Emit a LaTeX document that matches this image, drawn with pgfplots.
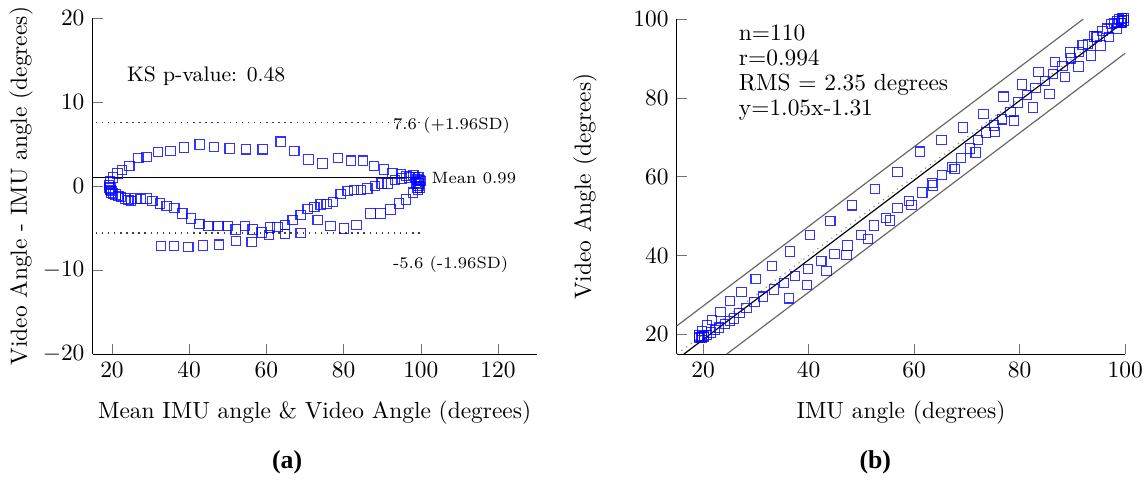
\documentclass[border=0pt]{standalone}
\usepackage{fontspec}
\newfontfamily\capfont{Liberation Serif}
\usepackage{pgfplots}
\usepackage{pgfplotstable}
\pgfplotsset{compat=1.18}
\pgfplotstableread{
m d
19.22 0.12
19.48 0.52
20.34 1.03
21.47 1.51
22.67 1.90
24.49 2.42
26.82 3.37
28.98 3.49
31.99 4.08
35.20 4.20
38.73 4.60
42.72 4.96
46.42 4.64
50.49 4.48
54.71 4.37
59.04 4.37
63.70 5.28
67.24 4.17
70.87 3.17
74.50 2.70
78.60 3.37
81.90 3.02
85.10 3.02
87.90 2.38
90.50 1.98
92.70 1.51
94.80 1.43
96.30 1.19
98.06 1.31
99.35 1.03
99.80 0.71
19.22 -0.16
19.48 -0.48
19.74 -0.79
20.34 -0.87
20.95 -0.99
21.64 -1.15
22.33 -1.27
23.37 -1.47
24.23 -1.67
24.92 -1.79
26.13 -1.47
27.43 -1.55
28.98 -1.47
30.45 -1.79
32.44 -2.06
34.17 -2.38
36.15 -2.58
38.22 -3.25
40.47 -3.85
42.63 -4.52
44.96 -4.76
47.55 -4.72
49.98 -4.72
52.05 -5.16
54.46 -4.76
56.45 -5.16
58.78 -5.52
60.93 -4.92
62.84 -4.84
64.82 -4.64
66.81 -4.05
68.88 -3.45
70.70 -2.74
72.41 -2.46
74.06 -2.18
75.62 -2.14
77.33 -1.87
79.25 -0.95
81.06 -0.56
82.77 -0.48
84.51 -0.48
86.14 -0.28
88.13 0.00
89.87 0.32
91.42 0.32
93.32 0.71
95.05 0.91
97.02 1.03
98.94 0.79
99.97 0.60
32.70 -7.11
36.06 -7.14
39.77 -7.26
43.65 -7.06
47.72 -6.98
52.12 -6.55
56.19 -6.63
60.67 -5.83
64.82 -5.71
68.88 -5.56
73.29 -4.05
76.58 -4.76
80.03 -5.04
83.32 -4.64
86.94 -3.25
89.53 -3.25
92.12 -2.78
94.28 -2.06
96.19 -1.59
98.00 -0.79
99.20 -0.48
99.72 -0.16
99.50 0.30
99.10 -0.20
98.80 0.40
99.40 0.00
19.60 -0.30
19.90 -0.60
98.50 1.10
}\batable
\pgfplotstableread{
imu vid
19.16 19.28
19.22 19.74
19.83 20.86
20.72 22.23
21.72 23.62
23.28 25.70
25.14 28.51
27.24 30.73
29.95 34.03
33.10 37.30
36.43 41.03
40.24 45.20
44.10 48.74
48.25 52.73
52.53 56.90
56.86 61.23
61.06 66.34
65.16 69.33
69.29 72.46
73.15 75.85
76.92 80.29
80.39 83.41
83.59 86.61
86.71 89.09
89.51 91.49
91.95 93.46
94.09 95.52
95.71 96.90
97.41 98.72
98.84 99.87
99.45 100.16
19.30 19.14
19.72 19.24
20.14 19.35
20.78 19.91
21.45 20.46
22.22 21.07
22.97 21.70
24.11 22.64
25.07 23.40
25.82 24.03
26.87 25.40
28.21 26.66
29.72 28.25
31.35 29.56
33.47 31.41
35.36 32.98
37.44 34.86
39.85 36.60
42.40 38.55
44.89 40.37
47.34 42.58
49.91 45.19
52.34 47.62
54.63 49.47
56.84 52.08
59.03 53.87
61.54 56.02
63.39 58.47
65.26 60.42
67.14 62.50
68.84 64.79
70.61 67.16
72.07 69.33
73.64 71.18
75.15 72.97
76.69 74.55
78.27 76.40
79.73 78.78
81.34 80.78
83.01 82.53
84.75 84.27
86.28 86.00
88.13 88.13
89.71 90.03
91.26 91.58
92.97 93.68
94.60 95.51
96.51 97.54
98.55 99.34
99.67 100.27
36.26 29.15
39.63 32.49
43.40 36.14
47.18 40.12
51.21 44.23
55.40 48.85
59.51 52.88
63.59 57.76
67.68 61.97
71.66 66.10
75.32 71.27
78.96 74.20
82.55 77.51
85.64 81.00
88.57 85.32
91.16 87.91
93.51 90.73
95.31 93.25
96.99 95.40
98.40 97.61
99.44 98.96
99.80 99.64
99.35 99.65
99.20 99.00
98.60 99.00
99.40 99.40
19.75 19.45
20.20 19.60
97.95 99.05
}\sctable
\pgfplotsset{
  myax/.style={
    scale only axis, anchor=south west,
    axis x line=bottom, axis y line=left, axis line style={-},
    tick align=inside, tick style={black!55},
    clip=false,
  },
  mymarks/.style={only marks, mark=square, mark size=2pt, mark options={draw=blue, draw opacity=0.8, line width=0.45pt}},
}
\begin{document}
\begin{tikzpicture}
\useasboundingbox (0,0) rectangle (489.7pt,204.7pt);
\begin{axis}[myax,
  at={(39.6pt,53.4pt)}, width=189.7pt, height=143.6pt,
  xmin=15, xmax=130, ymin=-20, ymax=20,
  xtick={20,40,...,120}, ytick={-20,-10,...,20},
  xlabel={Mean IMU angle \& Video Angle (degrees)},
  ylabel={Video Angle - IMU angle (degrees)},
  xlabel style={at={(axis description cs:0.5,-0.1755)}, anchor=center},
  ylabel style={at={(axis description cs:-0.1613,0.5)}, anchor=center},
]
\addplot[black, line width=0.5pt] coordinates {(15,0.99) (100,0.99)};
\addplot[black!75, dotted, line width=0.6pt] coordinates {(15.8,7.6) (100,7.6)};
\addplot[black!75, dotted, line width=0.6pt] coordinates {(15.8,-5.6) (100,-5.6)};
\addplot[mymarks] table[x=m, y=d] {\batable};
\node[anchor=base west, inner sep=0pt, font=\small] at (axis cs:23.8,12.42) {KS p-value: 0.48};
\node[anchor=base west, inner sep=0pt, font=\scriptsize] at (axis cs:92.7,6.79) {7.6 (+1.96SD)};
\node[anchor=base west, inner sep=0pt, font=\scriptsize] at (axis cs:102.7,0.32) {Mean 0.99};
\node[anchor=base west, inner sep=0pt, font=\scriptsize] at (axis cs:92.7,-9.8) {-5.6 (-1.96SD)};
\end{axis}
\begin{axis}[myax,
  at={(289.2pt,53.4pt)}, width=191.6pt, height=143.2pt,
  xmin=15, xmax=100, ymin=15, ymax=100,
  xtick={20,40,...,100}, ytick={20,40,...,100},
  xlabel={IMU angle (degrees)},
  ylabel={Video Angle (degrees)},
  xlabel style={at={(axis description cs:0.5,-0.176)}, anchor=center},
  ylabel style={at={(axis description cs:-0.2046,0.5)}, anchor=center},
]
\addplot[black!60, line width=0.5pt] coordinates {(15,22.15) (92.08,100)};
\addplot[black!60, line width=0.5pt] coordinates {(24.46,15) (100,91.3)};
\addplot[black!45, dotted, line width=0.5pt] coordinates {(15,15) (100,100)};
\addplot[black, line width=0.5pt] coordinates {(16.34,15) (99.5,99.0)};
\addplot[mymarks] table[x=imu, y=vid] {\sctable};
\node[anchor=base west, inner sep=0pt] at (axis cs:26.7,94.56) {n=110};
\node[anchor=base west, inner sep=0pt] at (axis cs:26.7,88.10) {r=0.994};
\node[anchor=base west, inner sep=0pt] at (axis cs:26.7,81.77) {RMS $=$ 2.35 degrees};
\node[anchor=base west, inner sep=0pt] at (axis cs:26.7,75.44) {y=1.05x-1.31};
\end{axis}
\node[font=\capfont\bfseries\fontsize{11}{13}\selectfont, anchor=base, inner sep=0pt] at (122.7pt,4.7pt) {(a)};
\node[font=\capfont\bfseries\fontsize{11}{13}\selectfont, anchor=base, inner sep=0pt] at (374pt,4.7pt) {(b)};
\end{tikzpicture}
\end{document}
